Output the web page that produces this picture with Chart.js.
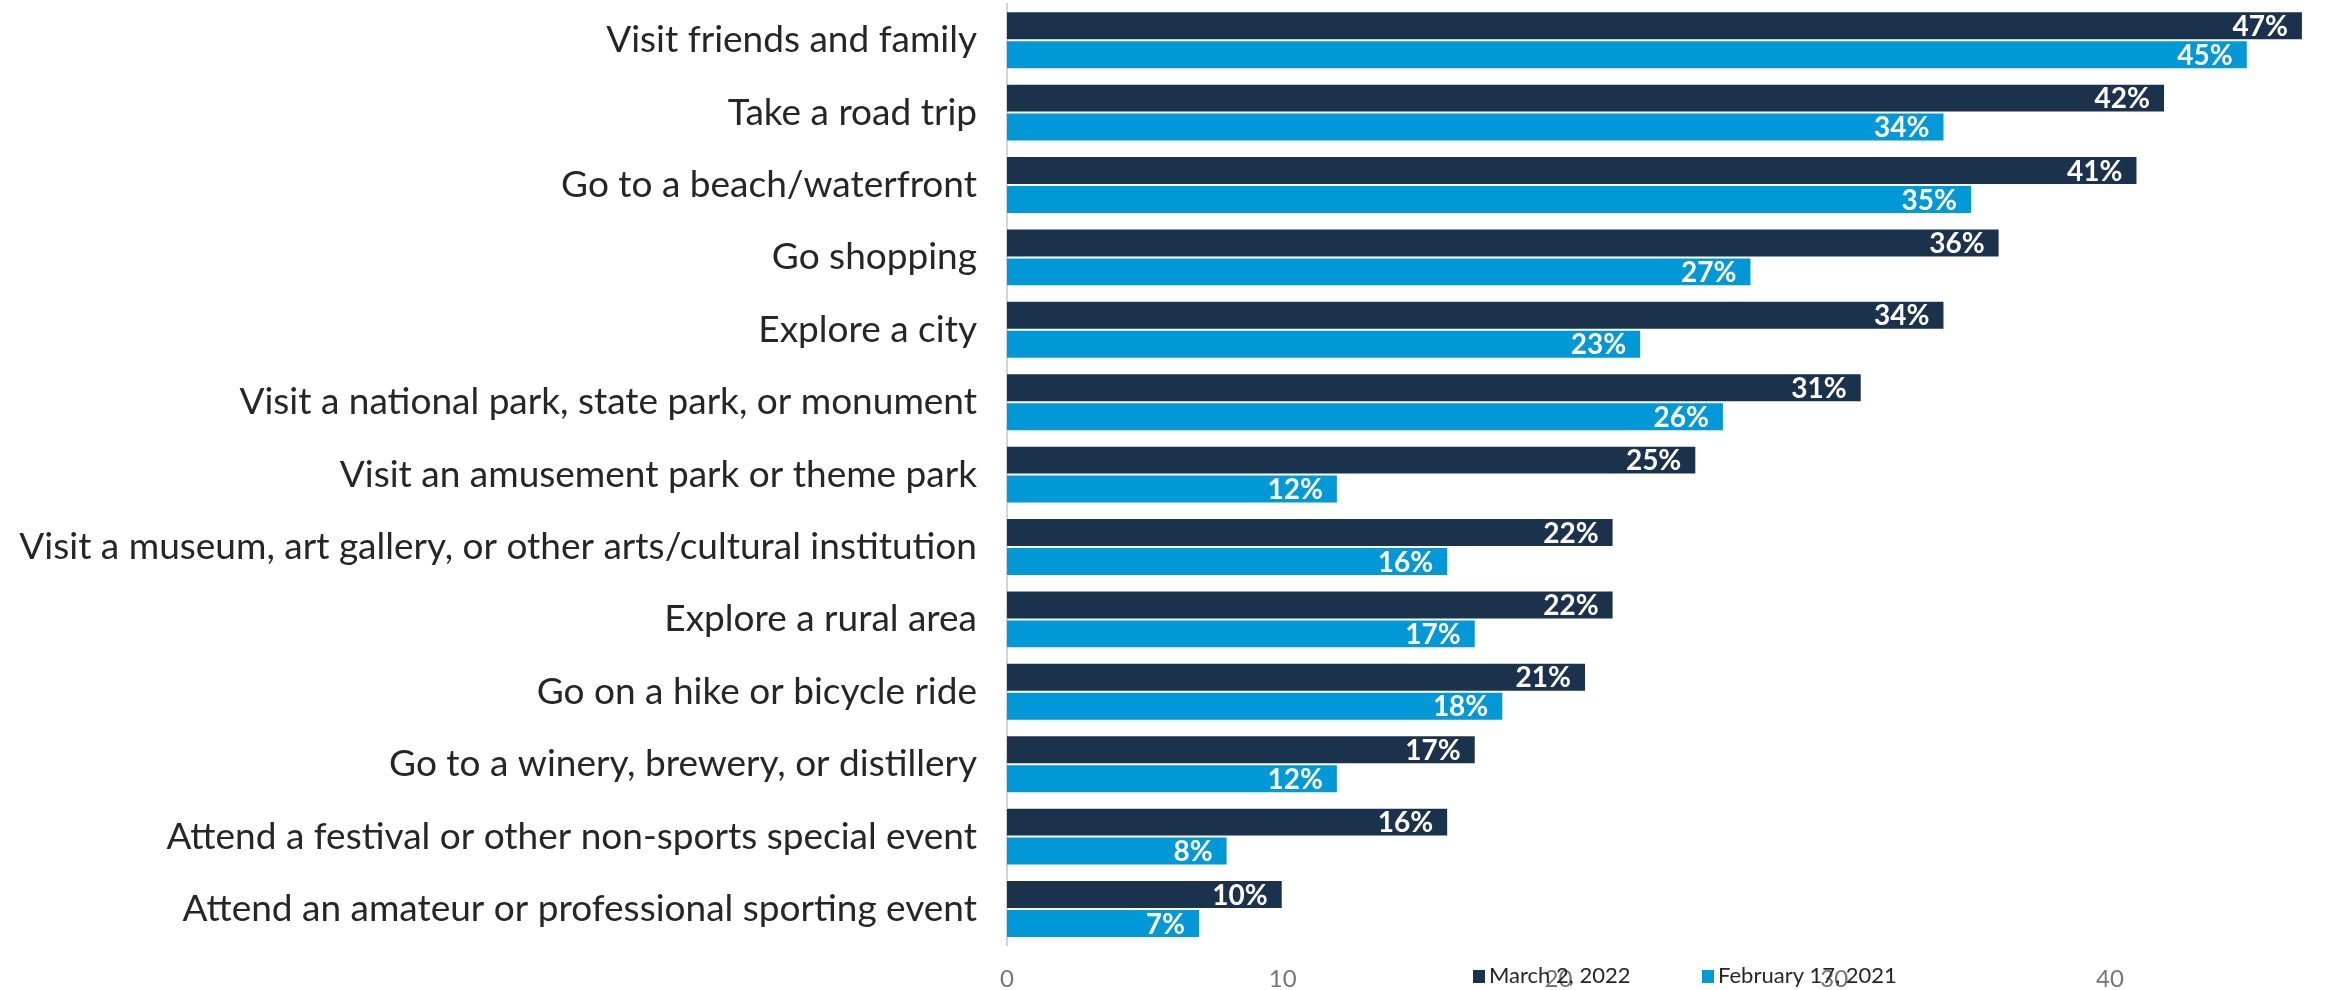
<!DOCTYPE html>
<html>
<head>
<meta charset="utf-8">
<script src="https://cdn.jsdelivr.net/npm/chart.js@4.4.1/dist/chart.umd.min.js"></script>
<style>
  html, body { margin: 0; padding: 0; background: #fff; overflow: hidden; }
  #wrap { width: 2336px; height: 1014px; }
</style>
</head>
<body>
<div id="wrap"><canvas id="activities" width="2336" height="1014"></canvas></div>
<script>
// activities people plan to do, share of respondents (%)
const categories = [
  'Visit friends and family',
  'Take a road trip',
  'Go to a beach/waterfront',
  'Go shopping',
  'Explore a city',
  'Visit a national park, state park, or monument',
  'Visit an amusement park or theme park',
  'Visit a museum, art gallery, or other arts/cultural institution',
  'Explore a rural area',
  'Go on a hike or bicycle ride',
  'Go to a winery, brewery, or distillery',
  'Attend a festival or other non-sports special event',
  'Attend an amateur or professional sporting event'
];
const seriesNames = ['March 2, 2022', 'February 17, 2021'];
const march2022 = [47, 42, 41, 36, 34, 31, 25, 22, 22, 21, 17, 16, 10];
const feb2021 = [45, 34, 35, 27, 23, 26, 12, 16, 17, 18, 12, 8, 7];
const xTicks = [0, 10, 20, 30, 40];

const navy = '#1b324d';
const blue = '#0098d6';

Chart.defaults.font.family = 'Lato';

// white % labels at the inner end of each bar
const barValueLabels = {
  id: 'barValueLabels',
  afterDatasetsDraw(chart) {
    const ctx = chart.ctx;
    ctx.save();
    ctx.font = 'bold 28px Lato';
    ctx.fillStyle = '#ffffff';
    ctx.textAlign = 'right';
    ctx.textBaseline = 'middle';
    chart.data.datasets.forEach((ds, i) => {
      chart.getDatasetMeta(i).data.forEach((bar, j) => {
        ctx.fillText(ds.data[j] + '%', bar.x - 15, bar.y + 1);
      });
    });
    ctx.restore();
  }
};

// legend sits on top of the axis labels at the bottom
const bottomLegend = {
  id: 'bottomLegend',
  afterDraw(chart) {
    const ctx = chart.ctx;
    const starts = [1473, 1702];
    ctx.save();
    ctx.font = '22px Lato';
    ctx.textBaseline = 'alphabetic';
    ctx.textAlign = 'left';
    chart.data.datasets.forEach((ds, i) => {
      ctx.fillStyle = ds.backgroundColor;
      ctx.fillRect(starts[i], 970, 12, 13);
      ctx.fillStyle = '#262626';
      ctx.fillText(ds.label, starts[i] + 16, 983);
    });
    ctx.restore();
  }
};

new Chart(document.getElementById('activities'), {
  type: 'bar',
  data: {
    labels: categories,
    datasets: [
      { label: seriesNames[0], data: march2022, backgroundColor: navy,
        borderColor: 'rgba(255,255,255,0.22)', borderWidth: 1 },
      { label: seriesNames[1], data: feb2021, backgroundColor: blue,
        borderColor: 'rgba(255,255,255,0.22)', borderWidth: 1 }
    ]
  },
  options: {
    indexAxis: 'y',
    responsive: false,
    animation: false,
    categoryPercentage: 0.8,
    barPercentage: 1.0,
    layout: { padding: { top: 4, right: 0, bottom: 0, left: 0 } },
    plugins: {
      legend: { display: false },
      tooltip: { enabled: false }
    },
    scales: {
      x: {
        min: 0,
        max: 48.2,
        grid: { display: false, drawTicks: false },
        border: { display: false },
        afterBuildTicks(scale) {
          scale.ticks = xTicks.map(v => ({ value: v }));
        },
        ticks: {
          color: '#767676',
          font: { size: 24 },
          padding: 20
        }
      },
      y: {
        grid: { color: 'transparent', drawTicks: false },
        border: { display: true, color: '#d4d4d4', width: 2 },
        afterFit(scale) {
          scale.width = 1007;
          scale.paddingTop = 0;
          scale.paddingBottom = 0;
        },
        ticks: {
          color: '#262626',
          font: { size: 37 },
          padding: 30,
          autoSkip: false
        }
      }
    }
  },
  plugins: [barValueLabels, bottomLegend]
});
</script>
</body>
</html>
